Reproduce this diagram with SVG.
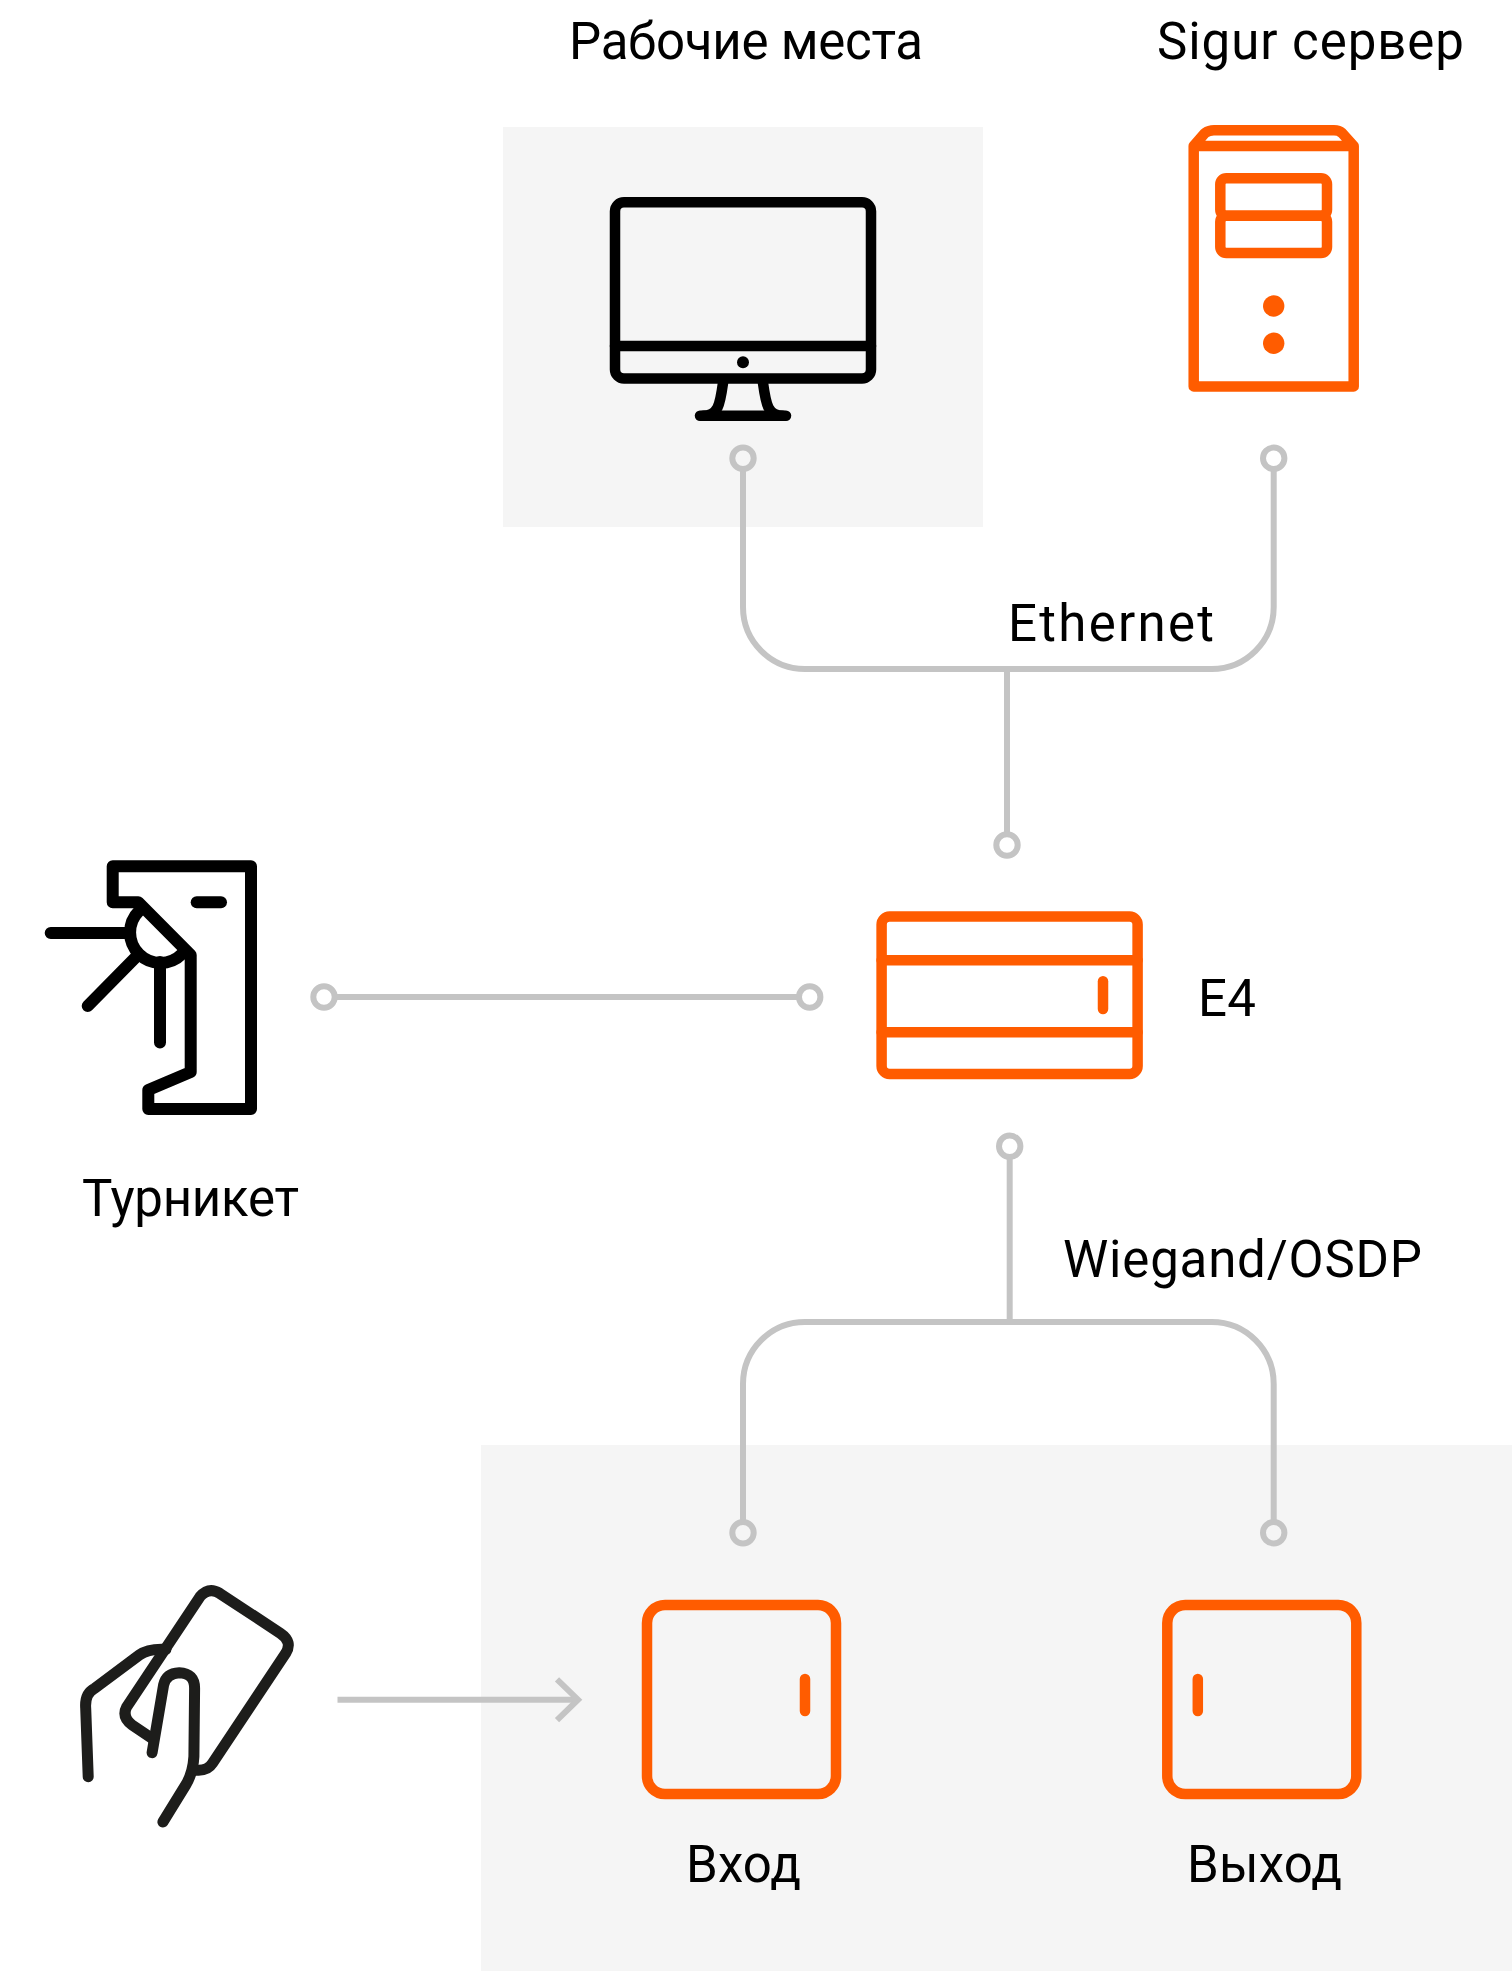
<svg xmlns="http://www.w3.org/2000/svg" width="1512" height="1971" viewBox="0 0 1512 1971">
<style>
.panel{fill:#f5f5f5}
.conn{fill:none;stroke:#c4c4c4;stroke-width:6}
.o{fill:none;stroke:#ff5c00;stroke-width:10.5;stroke-linecap:round;stroke-linejoin:round}
.k{fill:none;stroke:#000;stroke-width:10.5;stroke-linecap:round;stroke-linejoin:round}
.k12{stroke-width:12}
.h{fill:none;stroke:#1d1d1b;stroke-width:11;stroke-linecap:round;stroke-linejoin:round}
.fo{fill:#ff5c00}
.fk{fill:#000}
text{font-family:"Roboto","Liberation Sans",sans-serif;font-weight:400;font-size:51px;fill:#000}
</style>
<rect class="panel" x="503" y="127" width="480" height="400"/>
<rect class="panel" x="481" y="1445" width="1031" height="526"/>
<g id="connectors">
<path class="conn" d="M743 469V607a62 62 0 0 0 62 62H1211.700a62 62 0 0 0 62-62V469"/>
<path class="conn" d="M1007 669V834.500"/>
<circle class="conn" cx="743" cy="458.300" r="10.700"/>
<circle class="conn" cx="1273.700" cy="458.300" r="10.700"/>
<circle class="conn" cx="1007" cy="845" r="10.700"/>
<path class="conn" d="M335 997H799"/>
<circle class="conn" cx="324" cy="997" r="10.700"/>
<circle class="conn" cx="809.700" cy="997" r="10.700"/>
<path class="conn" d="M1009.700 1157V1322"/>
<path class="conn" d="M743 1522V1384a62 62 0 0 1 62-62H1211.700a62 62 0 0 1 62 62V1522"/>
<circle class="conn" cx="1009.700" cy="1146.300" r="10.700"/>
<circle class="conn" cx="743" cy="1532.700" r="10.700"/>
<circle class="conn" cx="1273.700" cy="1532.700" r="10.700"/>
<path class="conn" d="M337.500 1699.700H578"/>
<path class="conn" d="M557 1679.300L578 1699.700L557 1720.100"/>
</g>
<g id="workstation">
<text x="569" y="58.500" textLength="354">Рабочие места</text>
<rect class="k" x="615" y="202.300" width="256" height="176.200" rx="9"/>
<path class="k" d="M615 346H871"/>
<circle class="fk" cx="743" cy="362.300" r="6"/>
<path class="k" d="M700 415.700H786"/>
<path class="k" d="M723 383C720 405 718 415.700 703 415.700M763 383C766 405 768 415.700 783 415.700" stroke-linecap="butt"/>
</g>
<g id="server">
<text x="1157" y="58.500" textLength="307">Sigur сервер</text>
<path class="o" d="M1193.700 146H1353.700V386.400H1193.700ZM1193.700 146L1205 133Q1209 130.300 1214 130.300H1334Q1339 130.300 1342 133L1353.700 146"/>
<rect class="o" x="1220.300" y="178.300" width="106.700" height="37.400" rx="6"/>
<rect class="o" x="1220.300" y="215.700" width="106.700" height="37.300" rx="6"/>
<circle class="fo" cx="1273.700" cy="306" r="10.700"/>
<circle class="fo" cx="1273.700" cy="343.300" r="10.700"/>
</g>
<g id="turnstile">
<path class="k k12" d="M112.700 866.300H251V1109H148.300V1090L190.700 1072V955L138.300 902.300H112.700Z"/>
<path class="k k12" d="M196.700 902.300H221"/>
<path class="k k12" d="M139 911A30 30 0 0 0 182 954"/>
<path class="k k12" d="M50.700 933H130M87.700 1006L135 958M160 962V1042.600"/>
<text x="82" y="1215.500" textLength="217">Турникет</text>
</g>
<g id="e4">
<rect class="o" x="881.600" y="916.600" width="256" height="157.400" rx="8"/>
<path class="o" d="M881.600 960.300H1137.600M881.600 1032.300H1137.600"/>
<path class="o" d="M1103 981.300V1009"/>
<text x="1198" y="1015.500" textLength="58">E4</text>
</g>
<g id="hand">
<path class="h" d="M88.200 1776.700L85.700 1708.300Q84.600 1693.300 94.600 1688.300L139.300 1655Q148.200 1648.300 166 1649.300"/>
<path class="h" d="M152.900 1739L132.100 1725Q121.400 1716.700 126.800 1706.700L200 1596.700Q208.900 1586.700 219.600 1593.300L280.400 1633.300Q292.900 1641.700 285.700 1653.300L212.500 1763.300Q207.100 1771.700 194.600 1770"/>
<path class="h" d="M152.100 1752.700L163.600 1685Q166.100 1673.300 179.300 1672.700Q194.600 1673.300 194.600 1688.300L193.900 1756.700Q192.900 1773.300 185.700 1785L162.900 1822"/>
</g>
<g id="entry">
<rect class="o" x="647" y="1605" width="189" height="189" rx="18"/>
<path class="o" d="M805 1679V1711"/>
<text x="686" y="1882" textLength="115">Вход</text>
</g>
<g id="exit">
<rect class="o" x="1167.300" y="1605" width="189" height="189" rx="18"/>
<path class="o" d="M1197.800 1679V1711"/>
<text x="1187" y="1882" textLength="155">Выход</text>
</g>
<text x="1008" y="640.500" textLength="206">Ethernet</text>
<text x="1063" y="1276.500" textLength="359">Wiegand/OSDP</text>
</svg>
